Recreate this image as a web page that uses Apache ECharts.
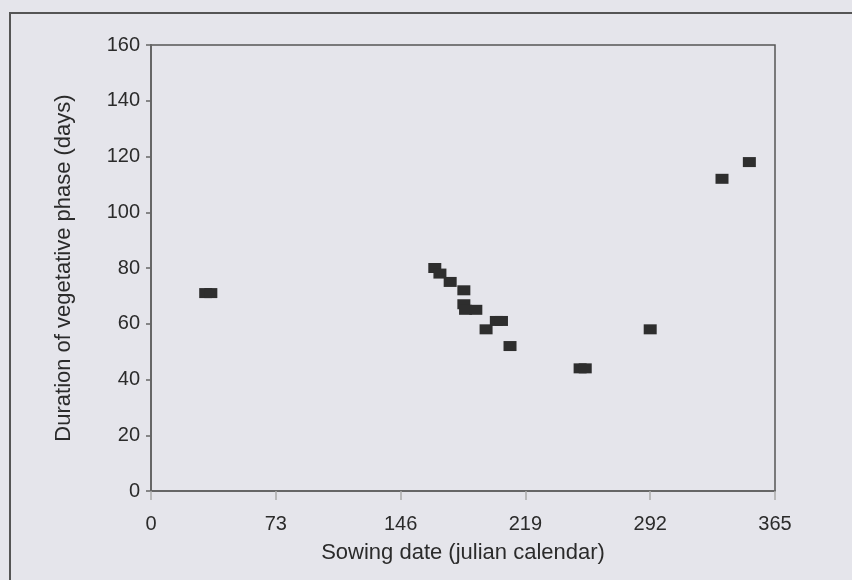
<!DOCTYPE html>
<html>
<head>
<meta charset="utf-8">
<script src="https://cdn.jsdelivr.net/npm/echarts@6/dist/echarts.min.js"></script>
<style>
  html, body { margin: 0; padding: 0; background: #e5e5eb; }
  #chart { width: 852px; height: 580px; }
</style>
</head>
<body>
<div id="chart"></div>
<script>
// sowing date (julian day) and duration of vegetative phase (days)
const sowingDay = [32, 35, 166, 169, 175, 183, 183, 184, 190, 196, 202, 205, 210, 251, 254, 292, 334, 350]
const duration  = [71, 71, 80, 78, 75, 72, 67, 65, 65, 58, 61, 61, 52, 44, 44, 58, 112, 118]
const xTicks = [0, 73, 146, 219, 292, 365]

const points = sowingDay.map((d, i) => [d, duration[i]])

const chart = echarts.init(document.getElementById('chart'))
const textColor = '#2b2b2b'
const font = 'Liberation Sans, Arial, sans-serif'

chart.setOption({
  backgroundColor: '#e5e5eb',
  animation: false,
  // outer frame
  graphic: [{
    type: 'rect',
    shape: { x: 10, y: 13, width: 900, height: 700 },
    style: { fill: 'none', stroke: '#555', lineWidth: 2 }
  }],
  grid: {
    left: 151, top: 45, width: 624, height: 446,
    show: true, borderColor: '#555', borderWidth: 1.5,
    backgroundColor: 'transparent'
  },
  xAxis: {
    type: 'value',
    min: xTicks[0], max: xTicks[xTicks.length - 1], interval: 73,
    name: 'Sowing date (julian calendar)',
    nameLocation: 'middle', nameGap: 51,
    nameTextStyle: { color: textColor, fontSize: 22, fontFamily: font },
    axisLine: { lineStyle: { color: '#666', width: 2 } },
    axisTick: { show: true, length: 9, lineStyle: { color: '#aaa', width: 1.5 } },
    axisLabel: { color: textColor, fontSize: 20, fontFamily: font, margin: 23 },
    splitLine: { show: false }
  },
  yAxis: {
    type: 'value',
    min: 0, max: 160, interval: 20,
    name: 'Duration of vegetative phase (days)',
    nameLocation: 'middle', nameGap: 76,
    nameTextStyle: { color: textColor, fontSize: 22, fontFamily: font },
    axisLine: { lineStyle: { color: '#666', width: 2 } },
    axisTick: { show: true, length: 5, lineStyle: { color: '#666', width: 1.5 } },
    axisLabel: { color: textColor, fontSize: 20, fontFamily: font, margin: 11 },
    splitLine: { show: false }
  },
  series: [{
    type: 'scatter',
    data: points,
    symbol: 'rect',
    symbolSize: [13, 10],
    itemStyle: { color: '#2e2e2e', opacity: 1 }
  }]
})
</script>
</body>
</html>
